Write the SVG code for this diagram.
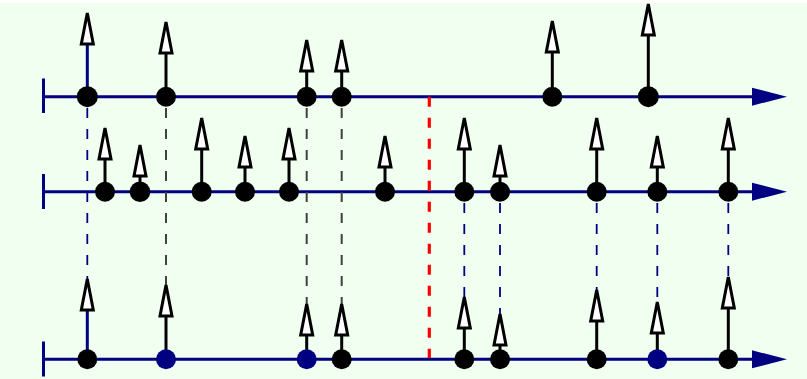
<svg xmlns="http://www.w3.org/2000/svg" xmlns:xlink="http://www.w3.org/1999/xlink" width="807" height="379" viewBox="0 0 807 379">
  <style>
    .axis { stroke: #000080; stroke-width: 3; fill: none; }
    .axhead { fill: #000080; stroke: none; }
    .stem { stroke: #000000; stroke-width: 3; }
    .stem.nv { stroke: #000080; }
    .dot { fill: #000000; }
    .dot.nv { fill: #000080; }
    .head { fill: #ffffff; stroke: #000000; stroke-width: 3; stroke-linejoin: miter; }
    .dblue { stroke: #000080; stroke-width: 1.8; stroke-dasharray: 10 11; fill: none; }
    .dgray { stroke: #404040; stroke-width: 2; stroke-dasharray: 10 11; fill: none; }
    .dred { stroke: #ff0000; stroke-width: 3.2; stroke-dasharray: 10 11; fill: none; }
  </style>
  <defs>
    <path id="hd" class="head" d="M0,0 L6,31 L-6,31 Z"/>
    <polygon id="axarrow" class="axhead" points="752,-9 787,0 752,9"/>
  </defs>

  <rect x="0" y="3" width="807" height="376" fill="#f0fff0"/>

  <!-- time axes -->
  <g id="axis1">
    <line class="axis" x1="43.5" y1="96.7" x2="756" y2="96.7"/>
    <line class="axis" x1="43.5" y1="78.5" x2="43.5" y2="113"/>
    <use xlink:href="#axarrow" y="96.7"/>
  </g>
  <g id="axis2">
    <line class="axis" x1="43.5" y1="191.7" x2="756" y2="191.7"/>
    <line class="axis" x1="43.5" y1="174" x2="43.5" y2="209"/>
    <use xlink:href="#axarrow" y="191.7"/>
  </g>
  <g id="axis3">
    <line class="axis" x1="43.5" y1="359.3" x2="756" y2="359.3"/>
    <line class="axis" x1="43.5" y1="341.5" x2="43.5" y2="376.5"/>
    <use xlink:href="#axarrow" y="359.3"/>
  </g>

  <!-- dashed correspondence lines -->
  <g id="connectors">
    <line class="dblue" x1="87.3" y1="108" x2="87.3" y2="279"/>
    <line class="dgray" x1="166" y1="108" x2="166" y2="285"/>
    <line class="dgray" x1="306.7" y1="108" x2="306.7" y2="304"/>
    <line class="dgray" x1="341.7" y1="108" x2="341.7" y2="304"/>
    <line class="dred" x1="429.3" y1="96.7" x2="429.3" y2="358"/>
    <line class="dblue" x1="464.3" y1="202" x2="464.3" y2="297" stroke-dashoffset="-1"/>
    <line class="dblue" x1="500" y1="202" x2="500" y2="314" stroke-dashoffset="-1"/>
    <line class="dblue" x1="596.7" y1="202" x2="596.7" y2="290" stroke-dashoffset="-1"/>
    <line class="dblue" x1="657.3" y1="202" x2="657.3" y2="302" stroke-dashoffset="-1"/>
    <line class="dblue" x1="728.3" y1="202" x2="728.3" y2="277" stroke-dashoffset="-1"/>
  </g>

  <!-- events on axis 1 -->
  <g id="a1-e1"><line class="stem nv" x1="87.3" y1="96.7" x2="87.3" y2="44"/><use xlink:href="#hd" x="87.3" y="13"/><circle class="dot" cx="87.3" cy="96.7" r="10.5"/></g>
  <g id="a1-e2"><line class="stem" x1="166" y1="96.7" x2="166" y2="53"/><use xlink:href="#hd" x="166" y="22"/><circle class="dot" cx="166" cy="96.7" r="10"/></g>
  <g id="a1-e3"><line class="stem" x1="306.7" y1="96.7" x2="306.7" y2="71"/><use xlink:href="#hd" x="306.7" y="40"/><circle class="dot" cx="306.7" cy="96.7" r="10"/></g>
  <g id="a1-e4"><line class="stem" x1="341.7" y1="96.7" x2="341.7" y2="71"/><use xlink:href="#hd" x="341.7" y="40"/><circle class="dot" cx="341.7" cy="96.7" r="10"/></g>
  <g id="a1-e5"><line class="stem" x1="552.3" y1="96.7" x2="552.3" y2="52"/><use xlink:href="#hd" x="552.3" y="21"/><circle class="dot" cx="552.3" cy="96.7" r="10"/></g>
  <g id="a1-e6"><line class="stem" x1="648.3" y1="96.7" x2="648.3" y2="35"/><use xlink:href="#hd" x="648.3" y="4"/><circle class="dot" cx="648.3" cy="96.7" r="10.5"/></g>

  <!-- events on axis 2 -->
  <g id="a2-e1"><line class="stem" x1="105" y1="191.7" x2="105" y2="159"/><use xlink:href="#hd" x="105" y="128"/><circle class="dot" cx="105" cy="191.7" r="10"/></g>
  <g id="a2-e2"><line class="stem" x1="140" y1="191.7" x2="140" y2="176"/><use xlink:href="#hd" x="140" y="145"/><circle class="dot" cx="140" cy="191.7" r="10.3"/></g>
  <g id="a2-e3"><line class="stem" x1="201.7" y1="191.7" x2="201.7" y2="149"/><use xlink:href="#hd" x="201.7" y="118"/><circle class="dot" cx="201.7" cy="191.7" r="10"/></g>
  <g id="a2-e4"><line class="stem" x1="245" y1="191.7" x2="245" y2="167"/><use xlink:href="#hd" x="245" y="136"/><circle class="dot" cx="245" cy="191.7" r="10"/></g>
  <g id="a2-e5"><line class="stem" x1="289" y1="191.7" x2="289" y2="159"/><use xlink:href="#hd" x="289" y="128"/><circle class="dot" cx="289" cy="191.7" r="10"/></g>
  <g id="a2-e6"><line class="stem" x1="385" y1="191.7" x2="385" y2="167"/><use xlink:href="#hd" x="385" y="136"/><circle class="dot" cx="385" cy="191.7" r="10"/></g>
  <g id="a2-e7"><line class="stem" x1="464.3" y1="191.7" x2="464.3" y2="149"/><use xlink:href="#hd" x="464.3" y="118"/><circle class="dot" cx="464.3" cy="191.7" r="10"/></g>
  <g id="a2-e8"><line class="stem" x1="500" y1="191.7" x2="500" y2="176"/><use xlink:href="#hd" x="500" y="145"/><circle class="dot" cx="500" cy="191.7" r="10"/></g>
  <g id="a2-e9"><line class="stem" x1="596.7" y1="191.7" x2="596.7" y2="149"/><use xlink:href="#hd" x="596.7" y="118"/><circle class="dot" cx="596.7" cy="191.7" r="10"/></g>
  <g id="a2-e10"><line class="stem" x1="657.3" y1="191.7" x2="657.3" y2="167"/><use xlink:href="#hd" x="657.3" y="136"/><circle class="dot" cx="657.3" cy="191.7" r="10"/></g>
  <g id="a2-e11"><line class="stem" x1="728.3" y1="191.7" x2="728.3" y2="149"/><use xlink:href="#hd" x="728.3" y="118"/><circle class="dot" cx="728.3" cy="191.7" r="10"/></g>

  <!-- events on axis 3 -->
  <g id="a3-e1"><line class="stem nv" x1="87.3" y1="359.3" x2="87.3" y2="310"/><use xlink:href="#hd" x="87.3" y="279"/><circle class="dot" cx="87.3" cy="359.3" r="10"/></g>
  <g id="a3-e2"><line class="stem" x1="166" y1="359.3" x2="166" y2="316"/><use xlink:href="#hd" x="166" y="285"/><circle class="dot nv" cx="166" cy="359.3" r="10"/></g>
  <g id="a3-e3"><line class="stem" x1="306.7" y1="359.3" x2="306.7" y2="335"/><use xlink:href="#hd" x="306.7" y="304"/><circle class="dot nv" cx="306.7" cy="359.3" r="10"/></g>
  <g id="a3-e4"><line class="stem" x1="341.7" y1="359.3" x2="341.7" y2="335"/><use xlink:href="#hd" x="341.7" y="304"/><circle class="dot" cx="341.7" cy="359.3" r="10"/></g>
  <g id="a3-e5"><line class="stem" x1="464.3" y1="359.3" x2="464.3" y2="328"/><use xlink:href="#hd" x="464.3" y="297"/><circle class="dot" cx="464.3" cy="359.3" r="10"/></g>
  <g id="a3-e6"><line class="stem" x1="500" y1="359.3" x2="500" y2="345"/><use xlink:href="#hd" x="500" y="314"/><circle class="dot" cx="500" cy="359.3" r="10"/></g>
  <g id="a3-e7"><line class="stem" x1="596.7" y1="359.3" x2="596.7" y2="321"/><use xlink:href="#hd" x="596.7" y="290"/><circle class="dot" cx="596.7" cy="359.3" r="10"/></g>
  <g id="a3-e8"><line class="stem" x1="657.3" y1="359.3" x2="657.3" y2="333"/><use xlink:href="#hd" x="657.3" y="302"/><circle class="dot nv" cx="657.3" cy="359.3" r="10"/></g>
  <g id="a3-e9"><line class="stem" x1="728.3" y1="359.3" x2="728.3" y2="308"/><use xlink:href="#hd" x="728.3" y="277"/><circle class="dot" cx="728.3" cy="359.3" r="10"/></g>
</svg>
